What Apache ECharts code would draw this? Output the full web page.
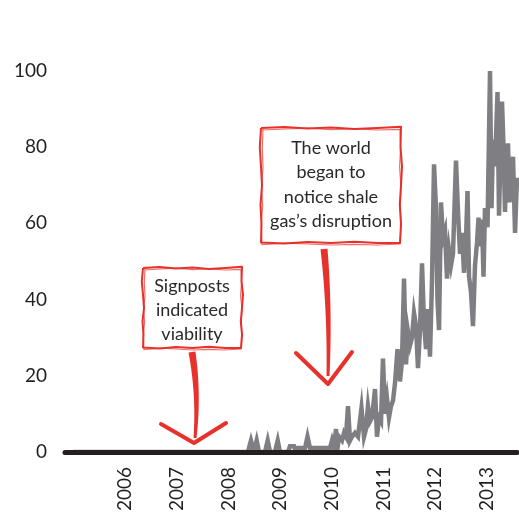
<!DOCTYPE html>
<html>
<head>
<meta charset="utf-8">
<script src="https://cdn.jsdelivr.net/npm/echarts@6/dist/echarts.min.js"></script>
<style>
html,body{margin:0;padding:0;background:#fff;}
#chart{width:519px;height:514px;}
</style>
</head>
<body>
<div id="chart"></div>
<script>
// ---- Data (decimal years, search interest index) ----
var dates = [
  2005.0, 2006.0, 2007.0, 2008.0,
  2008.379, 2008.437, 2008.495, 2008.547, 2008.592, 2008.708, 2008.760, 2008.805,
  2008.901, 2008.954, 2008.998, 2009.153, 2009.191, 2009.269, 2009.308, 2009.346,
  2009.482, 2009.530, 2009.578, 2009.965, 2010.004, 2010.043, 2010.081, 2010.101,
  2010.139, 2010.197, 2010.236, 2010.275, 2010.313, 2010.352, 2010.391, 2010.449,
  2010.507, 2010.574, 2010.623, 2010.661, 2010.700, 2010.739, 2010.778, 2010.836,
  2010.874, 2010.913, 2010.952, 2010.990, 2011.029, 2011.068, 2011.106, 2011.145,
  2011.184, 2011.222, 2011.271, 2011.319, 2011.358, 2011.397, 2011.435, 2011.474,
  2011.513, 2011.551, 2011.590, 2011.629, 2011.667, 2011.706, 2011.745, 2011.783,
  2011.822, 2011.861, 2011.899, 2011.938, 2011.977, 2012.015, 2012.044, 2012.074,
  2012.112, 2012.151, 2012.190, 2012.228, 2012.267, 2012.306, 2012.344, 2012.402,
  2012.441, 2012.480, 2012.518, 2012.557, 2012.596, 2012.625, 2012.654, 2012.692,
  2012.731, 2012.770, 2012.809, 2012.838, 2012.867, 2012.905, 2012.934, 2012.963,
  2013.012, 2013.060, 2013.089, 2013.118, 2013.157, 2013.205, 2013.234, 2013.263,
  2013.292, 2013.321, 2013.350, 2013.379, 2013.408, 2013.437, 2013.466, 2013.505,
  2013.544, 2013.582
];
var interest = [
  0, 0, 0, 0,
  0, 3, 0, 3, 0, 0, 3, 0,
  0, 3, 0, 0, 1.5, 1.5, 0, 1,
  1, 4, 1, 1, 3, 1, 6, 0,
  4, 3, 5, 4, 12, 3, 4, 5,
  4, 11.5, 4, 6, 12, 8, 9, 16.5,
  4, 9, 8, 24.5, 10, 14, 9, 12,
  13.5, 18, 27, 18.5, 24, 45.5, 23, 31.5,
  28, 30, 36.5, 33, 22, 32, 49.5, 34,
  27, 37.5, 25, 45, 75.5, 64, 40, 32,
  65.5, 56, 58, 45.5, 53, 49, 52, 76.5,
  63, 52, 57.5, 47, 56, 68.5, 46, 42,
  33, 49, 55, 61.5, 54, 61, 46, 64,
  59, 100, 64, 82, 75, 94.5, 62, 78.5,
  92, 80, 63, 76.5, 81, 65.5, 72, 77.5,
  57.5, 72
];
var yearTicks = [2006, 2007, 2008, 2009, 2010, 2011, 2012, 2013];
var annotations = [
  { lines: ['Signposts', 'indicated', 'viability'] },
  { lines: ['The world', 'began to', 'notice shale', 'gas\u2019s disruption'] }
];

var seriesData = dates.map(function (d, i) { return [d, interest[i]]; });

var FONT = 'Lato, "Noto Sans", sans-serif';
var INK = '#231f20';
var RED = '#e8312b';

var chart = echarts.init(document.getElementById('chart'), null, { renderer: 'canvas' });

function sketchRect(x0, y0, x1, y1, jit) {
  var pts = [];
  var n = 6;
  var k;
  for (k = 0; k <= n; k++) pts.push([x0 + (x1 - x0) * k / n, y0 + jit[k % jit.length]]);
  for (k = 1; k <= n; k++) pts.push([x1 + jit[(k + 2) % jit.length], y0 + (y1 - y0) * k / n]);
  for (k = 1; k <= n; k++) pts.push([x1 - (x1 - x0) * k / n, y1 + jit[(k + 4) % jit.length]]);
  for (k = 1; k <= n; k++) pts.push([x0 + jit[(k + 1) % jit.length], y1 - (y1 - y0) * k / n]);
  return pts;
}

function taper(x0, y0, cx, cy, x1, y1, w0, w1) {
  var left = [], right = [];
  var N = 16;
  for (var i = 0; i <= N; i++) {
    var t = i / N;
    var x = (1 - t) * (1 - t) * x0 + 2 * (1 - t) * t * cx + t * t * x1;
    var y = (1 - t) * (1 - t) * y0 + 2 * (1 - t) * t * cy + t * t * y1;
    var dx = 2 * (1 - t) * (cx - x0) + 2 * t * (x1 - cx);
    var dy = 2 * (1 - t) * (cy - y0) + 2 * t * (y1 - cy);
    var len = Math.sqrt(dx * dx + dy * dy) || 1;
    var nx = -dy / len, ny = dx / len;
    var w = (w0 + (w1 - w0) * t) / 2;
    left.push([x + nx * w, y + ny * w]);
    right.unshift([x - nx * w, y - ny * w]);
  }
  return left.concat(right);
}

function annotationGraphics(box, textX, textY0, lineH, fontSize, lines, stem, chev) {
  var g = [];
  var jitA = [0, -1, 0.5, -0.5, 1, 0, -1.2];
  var jitB = [1, 0, -0.8, 0.6, -0.4, 1, 0.3];
  g.push({ type: 'polyline', shape: { points: sketchRect(box[0], box[1], box[2], box[3], jitA) },
    style: { stroke: RED, lineWidth: 2, fill: null, lineJoin: 'round' }, z: 20 });
  g.push({ type: 'polyline', shape: { points: sketchRect(box[0] + 1, box[1] + 1, box[2] - 1, box[3] + 1, jitB) },
    style: { stroke: RED, lineWidth: 1.2, fill: null, opacity: 0.7 }, z: 20 });
  lines.forEach(function (t, i) {
    g.push({ type: 'text', x: textX, y: textY0 + i * lineH, z: 21,
      style: { text: t, font: fontSize + 'px ' + FONT, fill: '#2b2829', textAlign: 'center', textVerticalAlign: 'middle' } });
  });
  g.push({ type: 'polygon', shape: { points: taper(stem[0], stem[1], stem[2], stem[3], stem[4], stem[5], 7, 3) },
    style: { fill: RED }, z: 20 });
  g.push({ type: 'polyline', shape: { points: chev },
    style: { stroke: RED, lineWidth: 4, fill: null, lineCap: 'round', lineJoin: 'round' }, z: 20 });
  return g;
}

var graphics = []
  .concat(annotationGraphics([143, 268, 242, 348], 192, 286, 24, 18, annotations[0].lines,
    [192, 352, 199, 395, 195, 438],
    [[161, 424], [194, 443], [226, 423]]))
  .concat(annotationGraphics([261, 128, 401, 243], 331, 148, 24.5, 18, annotations[1].lines,
    [324, 249, 330, 310, 328, 376],
    [[296, 353], [328, 384], [352, 352]]));

var option = {
  backgroundColor: '#ffffff',
  animation: false,
  grid: { left: 65, right: 2, top: 71, bottom: 60, containLabel: false },
  xAxis: {
    type: 'value',
    min: 2004.84,
    max: 2013.582,
    z: 5,
    axisLine: { show: true, onZero: true, lineStyle: { color: INK, width: 5 } },
    axisTick: { show: false },
    splitLine: { show: false },
    axisLabel: {
      customValues: yearTicks,
      rotate: 90,
      margin: 15,
      fontSize: 19,
      fontFamily: FONT,
      color: INK,
      formatter: function (v) { return String(Math.round(v)); }
    }
  },
  yAxis: {
    type: 'value',
    min: 0,
    max: 100,
    interval: 20,
    axisLine: { show: false },
    axisTick: { show: false },
    splitLine: { show: false },
    axisLabel: { margin: 18, fontSize: 19, fontFamily: FONT, color: INK }
  },
  series: [{
    type: 'line',
    data: seriesData,
    showSymbol: false,
    z: 2,
    lineStyle: { color: '#7f7f83', width: 4.5, join: 'miter' },
    emphasis: { disabled: true }
  }],
  graphic: graphics
};
chart.setOption(option);
</script>
</body>
</html>
